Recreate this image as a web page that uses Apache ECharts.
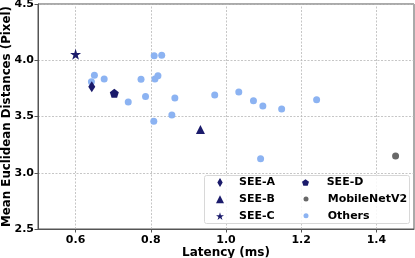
<!DOCTYPE html>
<html><head><meta charset="utf-8">
<script src="https://cdn.jsdelivr.net/npm/echarts@6/dist/echarts.min.js"></script>
<style>html,body{margin:0;padding:0;background:#fff}#c{width:415px;height:258px}</style>
</head><body><div id="c"></div>
<script>
var seeA = [[0.643, 3.765]];
var seeB = [[0.932, 3.385]];
var seeC = [[0.600, 4.053]];
var seeD = [[0.703, 3.707]];
var mobileNetV2 = [[1.451, 3.148]];
var others = [
  [0.642, 3.81], [0.650, 3.867], [0.676, 3.834], [0.740, 3.63], [0.774, 3.831],
  [0.786, 3.677], [0.809, 4.04], [0.829, 4.044], [0.811, 3.834], [0.819, 3.863],
  [0.864, 3.665], [0.856, 3.514], [0.808, 3.458], [0.970, 3.692], [1.034, 3.718],
  [1.073, 3.641], [1.098, 3.594], [1.148, 3.567], [1.241, 3.650], [1.092, 3.124]
];
var xTicks = [0.6, 0.8, 1.0, 1.2, 1.4];
var yTicks = [2.5, 3.0, 3.5, 4.0, 4.5];

var NAVY = '#1b1b6b';
var LIGHT = '#8cb3f2';
var GRAY = '#686868';
var FONT = 'DejaVu Sans';
var GRIDC = '#b8b8b8';
var thinDiamond = 'path://M0,-1 L0.6,0 L0,1 L-0.6,0 Z';
var pentagon = 'path://M0,-1 L0.951,-0.309 L0.588,0.809 L-0.588,0.809 L-0.951,-0.309 Z';
var star = 'path://M0,-1 L0.2245,-0.309 L0.951,-0.309 L0.363,0.118 L0.588,0.809 L0,0.382 L-0.588,0.809 L-0.363,0.118 L-0.951,-0.309 L-0.2245,-0.309 Z';
var tri = 'path://M0,-1 L0.9,0.8 L-0.9,0.8 Z';

var chart = echarts.init(document.getElementById('c'), null, {renderer: 'canvas'});
function lt(pad) {
  return {fontFamily: FONT, fontWeight: 'bold', fontSize: 11, color: '#000', padding: [0, 0, 0, pad]};
}
chart.setOption({
  animation: false,
  grid: {left: 38, right: 1, top: 4, bottom: 29, show: true, borderColor: '#555', borderWidth: 1,
    containLabel: false, outerBoundsMode: 'none'},
  xAxis: {
    type: 'value', min: 0.5, max: 1.5, interval: 0.1,
    name: 'Latency (ms)', nameLocation: 'middle', nameGap: 17.5, nameMoveOverlap: false,
    nameTextStyle: {fontFamily: FONT, fontWeight: 'bold', fontSize: 12, color: '#000'},
    axisLine: {show: true, lineStyle: {color: '#555', width: 1}},
    axisTick: {show: true, inside: false, length: 3.5, lineStyle: {color: '#555'},
      customValues: xTicks},
    axisLabel: {fontFamily: FONT, fontWeight: 'bold', fontSize: 11, color: '#000', margin: 6,
      customValues: xTicks, formatter: function(v){return v.toFixed(1);}},
    splitLine: {show: false}
  },
  yAxis: {
    type: 'value', min: 2.5, max: 4.5, interval: 0.5,
    name: 'Mean Euclidean Distances (Pixel)', nameLocation: 'middle', nameGap: 25, nameMoveOverlap: false,
    nameTextStyle: {fontFamily: FONT, fontWeight: 'bold', fontSize: 11.8, color: '#000'},
    axisLine: {show: true, lineStyle: {color: '#555', width: 1}},
    axisTick: {show: true, inside: false, length: 3.5, lineStyle: {color: '#555'}},
    axisLabel: {fontFamily: FONT, fontWeight: 'bold', fontSize: 11, color: '#000', margin: 4,
      formatter: function(v){return v.toFixed(1);}},
    splitLine: {show: true, lineStyle: {color: GRIDC, type: [2, 1.5], width: 0.8}}
  },
  graphic: [{
    type: 'rect', z: 3, left: 204, top: 175,
    shape: {width: 205, height: 48, r: 2},
    style: {fill: 'rgba(255,255,255,0.85)', stroke: '#d8d8d8', lineWidth: 1}
  }],
  legend: [{
    data: [
      {name: 'SEE-A', icon: thinDiamond, itemStyle: {color: NAVY}, textStyle: lt(10)},
      {name: 'SEE-B', icon: tri, itemStyle: {color: NAVY}, textStyle: lt(10)},
      {name: 'SEE-C', icon: star, itemStyle: {color: NAVY}, textStyle: lt(10)}
    ],
    orient: 'vertical', left: 216, top: 177, itemSymbolKeepAspect: true,
    padding: 0, itemWidth: 8, itemHeight: 9, itemGap: 5.8, textStyle: lt(10), z: 5
  }, {
    data: [
      {name: 'SEE-D', icon: pentagon, itemStyle: {color: NAVY}, textStyle: lt(12.7)}
    ],
    orient: 'vertical', left: 302, top: 177,
    padding: 0, itemWidth: 7, itemHeight: 9, itemGap: 5.8, textStyle: lt(12.7), z: 5
  }, {
    data: [
      {name: 'MobileNetV2', icon: 'circle', itemStyle: {color: GRAY}, textStyle: lt(14.2)},
      {name: 'Others', icon: 'circle', itemStyle: {color: LIGHT}, textStyle: lt(14.2)}
    ],
    orient: 'vertical', left: 303.5, top: 193.5,
    padding: 0, itemWidth: 5, itemHeight: 5, itemGap: 5.8, textStyle: lt(14.2), z: 5
  }],
  series: [
    {name: 'Others', type: 'scatter', data: others, symbol: 'circle', symbolSize: 7,
      itemStyle: {color: LIGHT, opacity: 1}, z: 2,
      markLine: {
        silent: true, symbol: 'none', z: 1, animation: false,
        label: {show: false},
        lineStyle: {color: GRIDC, type: [2, 1.5], width: 0.8},
        emphasis: {disabled: true},
        data: xTicks.map(function(v){ return {xAxis: v}; })
      }},
    {name: 'MobileNetV2', type: 'scatter', data: mobileNetV2, symbol: 'circle', symbolSize: 7,
      itemStyle: {color: GRAY, opacity: 1}, z: 2},
    {name: 'SEE-A', type: 'scatter', data: seeA, symbol: thinDiamond, symbolSize: [7, 11],
      itemStyle: {color: NAVY, opacity: 1}, z: 3},
    {name: 'SEE-B', type: 'scatter', data: seeB, symbol: tri, symbolSize: [9, 9],
      itemStyle: {color: NAVY, opacity: 1}, z: 3},
    {name: 'SEE-C', type: 'scatter', data: seeC, symbol: star, symbolSize: 11,
      itemStyle: {color: NAVY, opacity: 1}, z: 3},
    {name: 'SEE-D', type: 'scatter', data: seeD, symbol: pentagon, symbolSize: 9,
      itemStyle: {color: NAVY, opacity: 1}, z: 3}
  ]
});
</script></body></html>
